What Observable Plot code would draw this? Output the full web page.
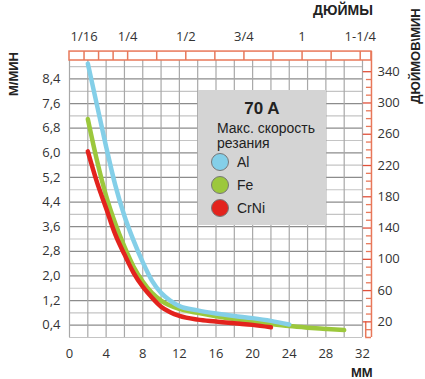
<!DOCTYPE html>
<html><head><meta charset="utf-8">
<script src="https://cdn.jsdelivr.net/npm/d3@7"></script>
<script src="https://cdn.jsdelivr.net/npm/@observablehq/plot@0.6"></script>
<style>
body{margin:0;background:#fff;font-family:"Open Sans",sans-serif;}
#wrap{position:relative;width:425px;height:379px;overflow:hidden;}
#wrap svg{position:absolute;left:0;top:0;}
.lbl{position:absolute;font-weight:bold;font-size:13px;color:#222;white-space:nowrap;font-family:"Liberation Sans",Arial,sans-serif;}
.rot{transform:translate(-50%,-50%) rotate(-90deg);}
#legend{position:absolute;left:198px;top:90px;width:128px;height:135px;background:#d4d4d4;color:#222;font-family:"Liberation Sans",Arial,sans-serif;}
#legend .t{position:absolute;left:0;width:128px;text-align:center;top:9px;font-size:17px;font-weight:bold;}
#legend .s{position:absolute;left:19px;top:31px;font-size:14px;line-height:15px;}
#legend .it{position:absolute;left:13px;font-size:14px;display:flex;align-items:center;}
#legend .dot{width:16px;height:16px;border-radius:50%;border:1px solid #777;margin-right:8px;}
</style></head>
<body><div id="wrap"></div>
<script>
// --- data ---
const seriesNames = ["Al", "Fe", "CrNi"];
const seriesColors = ["#84cfe8", "#9cc83c", "#e3231d"];
const alX = [2,3,4,5,6,7,8,9,10,11,12,14,16,18,20,22,24];
const alY = [8.9,7.55,6.2,4.95,3.95,3.15,2.45,1.85,1.45,1.2,1.02,0.88,0.78,0.70,0.63,0.54,0.42];
const feX = [2,3,4,5,6,7,8,9,10,12,14,16,18,20,22,24,26,28,30];
const feY = [7.1,5.75,4.6,3.7,2.95,2.3,1.82,1.45,1.2,0.93,0.8,0.69,0.6,0.52,0.44,0.37,0.32,0.28,0.24];
const crX = [2,3,4,5,6,7,8,9,10,11,12,14,16,18,20,22];
const crY = [6.05,5.05,4.2,3.35,2.7,2.1,1.65,1.3,1.0,0.82,0.7,0.58,0.52,0.46,0.41,0.33];
const xTicks = [0,4,8,12,16,20,24,28,32];
const yTicks = [0.4,1.2,2.0,2.8,3.6,4.4,5.2,6.0,6.8,7.6,8.4];
const inchLabels = [["1/16",1/16],["1/4",1/4],["1/2",1/2],["3/4",3/4],["1",1],["1-1/4",1.25]];
const inchTicks = [1/16,1/8,3/16,1/4,3/8,1/2,5/8,3/4,7/8,1,9/8,5/4];
const ipmLabels = [20,60,100,140,180,220,260,300,340];
const ipmMinor = d3.range(10, 350, 10);
const IN_PER_M = 39.37, MM_PER_IN = 25.4;

const rows = [];
[[alX,alY],[feX,feY],[crX,crY]].forEach(([xs,ys],i)=>xs.forEach((x,j)=>rows.push({s:seriesNames[i],x,y:ys[j]})));
const drawOrder = ["Fe","Al","CrNi"];

const orange = "#e8785a";
const xMax = 32, yMax = 9;
const xEdge = 32.98, yStrip = 9.29, xBox = 32.35;
const vGrid = d3.range(0, 33, 2);
const hGrid = d3.range(0, 23).map(i => +(i*0.4).toFixed(1));
const fmt = d => d.toFixed(1).replace(".", ",");
const isMajor = d => yTicks.some(t => Math.abs(t-d) < 1e-6);

const chart = Plot.plot({
  width: 425, height: 379,
  marginLeft: 69, marginRight: 63, marginTop: 60, marginBottom: 42,
  x: {type: "linear", domain: [0, xMax], label: null},
  y: {type: "linear", domain: [0, yMax], label: null},
  color: {domain: seriesNames, range: seriesColors},
  style: {fontFamily: "Open Sans, sans-serif", fontSize: "13px", color: "#333", background: "transparent", overflow: "visible"},
  marks: [
    Plot.ruleY(hGrid, {x1: 0, x2: xMax, y: d=>d, stroke: d => isMajor(d) ? "#8c8c8c" : "#c4c4c4", strokeWidth: 1.2}),
    Plot.ruleX(vGrid, {x: d=>d, y1: 0, y2: yMax, stroke: "#a8a8a8", strokeWidth: 1.2}),
    // top inch strip
    Plot.rect([0], {x1: 0, x2: xEdge, y1: yMax, y2: yStrip, fill: "white", stroke: orange, strokeWidth: 1.5}),
    Plot.ruleX(inchTicks, {x: d=>d*MM_PER_IN, y1: yMax, y2: yStrip, stroke: orange, strokeWidth: 1.5}),
    Plot.text(inchLabels, {x: d=>d[1]*MM_PER_IN, y: yMax, dy: -24, text: d=>d[0], fill: "#333"}),
    // right in/min axis
    Plot.ruleX([xEdge], {y1: 0, y2: yStrip, stroke: orange, strokeWidth: 1.5}),
    Plot.ruleX([xBox], {y1: 0, y2: 20/IN_PER_M, stroke: orange, strokeWidth: 1.5}),
    Plot.ruleY([0], {x1: xBox, x2: xEdge, stroke: orange, strokeWidth: 1.5}),
    Plot.ruleY(ipmMinor, {y: d=>d/IN_PER_M, x1: d => ipmLabels.includes(d) ? xEdge-0.9 : xEdge-0.55, x2: xEdge, stroke: d => ipmLabels.includes(d) ? "#e0503a" : orange, strokeWidth: 1.3}),
    Plot.text(ipmLabels, {x: xEdge, y: d=>d/IN_PER_M, text: d=>String(d), dx: 6, textAnchor: "start", fill: "#333"}),
    // curves
    ...drawOrder.map(s => Plot.line(rows.filter(r => r.s === s), {x: "x", y: "y", stroke: "s", strokeWidth: 4.5, curve: "monotone-x"})),
    Plot.axisY({ticks: yTicks, tickSize: 0, tickPadding: 9, tickFormat: fmt, fill: "#333", label: null}),
    Plot.axisX({ticks: xTicks, tickSize: 0, tickPadding: 11, tickFormat: d=>String(d), fill: "#333", label: null})
  ]
});
const wrap = document.getElementById("wrap");
wrap.appendChild(chart);

function addLabel(text, left, top, rot, extraStyle) {
  const d = document.createElement("div");
  d.className = "lbl" + (rot ? " rot" : "");
  d.textContent = text;
  d.style.left = left + "px"; d.style.top = top + "px";
  if (extraStyle) Object.assign(d.style, extraStyle);
  wrap.appendChild(d);
  return d;
}
addLabel("ДЮЙМЫ", 313, 2, false, {fontSize: "14px"});
addLabel("ММ", 351, 365, false);
addLabel("М/МИН", 13, 74, true);
addLabel("ДЮЙМОВ\\МИН", 415, 56, true);

const lg = document.createElement("div");
lg.id = "legend";
lg.innerHTML = '<div class="t">70 A</div><div class="s">Макс. скорость<br>резания</div>';
seriesNames.forEach((s, i) => {
  const it = document.createElement("div");
  it.className = "it";
  it.style.top = (63 + i * 23) + "px";
  it.innerHTML = '<span class="dot" style="background:' + seriesColors[i] + '"></span>' + s;
  lg.appendChild(it);
});
wrap.appendChild(lg);
</script>
</body></html>
